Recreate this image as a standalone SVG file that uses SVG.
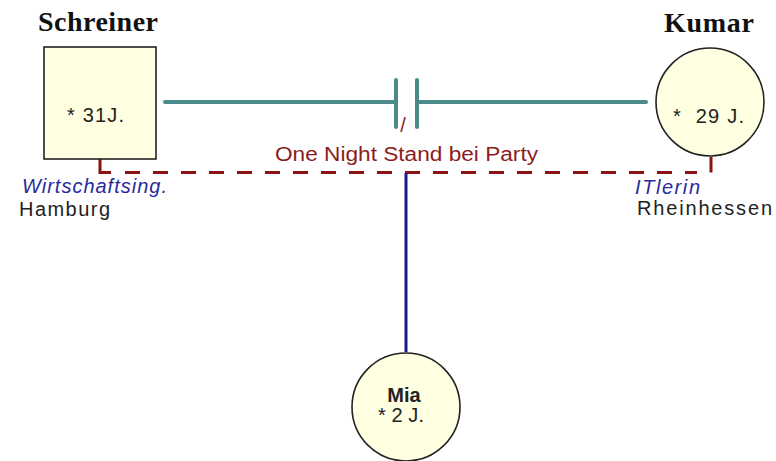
<svg xmlns="http://www.w3.org/2000/svg" width="776" height="461" viewBox="0 0 776 461">
  <style>
    .person { fill: #ffffe1; stroke: #222; stroke-width: 1.6; }
    .name { font-family: "Liberation Serif", "Times New Roman", serif; font-weight: bold; font-size: 28px; fill: #111; text-anchor: middle; }
    .age { font-family: "Liberation Sans", Arial, sans-serif; font-size: 20px; fill: #222; }
    .job { font-family: "Liberation Sans", Arial, sans-serif; font-size: 20px; font-style: italic; fill: #2a2a9c; }
    .place { font-family: "Liberation Sans", Arial, sans-serif; font-size: 20px; fill: #222; }
    .rel { font-family: "Liberation Sans", Arial, sans-serif; font-size: 20px; fill: #8b1c1c; }
    .partner { stroke: #4a8a88; stroke-width: 4; fill: none; stroke-linecap: round; }
    .union { stroke: #8b1212; stroke-width: 3; fill: none; }
    .dashed { stroke-dasharray: 15 13; }
    .child { stroke: #1a1a8c; stroke-width: 3; fill: none; }
  </style>

  <!-- connectors -->
  <g id="connectors">
    <!-- partnership line with separation bars -->
    <line class="partner" x1="165" y1="102" x2="396" y2="102"/>
    <line class="partner" x1="417" y1="102" x2="646" y2="102"/>
    <line class="partner" x1="396" y1="80" x2="396" y2="127"/>
    <line class="partner" x1="417" y1="80" x2="417" y2="127"/>
    <!-- parents' link -->
    <path class="union" d="M100 159 V172.5 H111"/>
    <line class="union dashed" x1="125" y1="172.5" x2="697" y2="172.5"/>
    <line class="union" x1="711" y1="157" x2="711" y2="172.5"/>
    <!-- child line -->
    <line class="child" x1="406" y1="173" x2="406" y2="352"/>
    <text class="rel" x="403" y="132" font-size="12" fill="#c0502a" text-anchor="middle">/</text>
    <text class="rel" x="406.5" y="161" text-anchor="middle" textLength="263" lengthAdjust="spacingAndGlyphs">One Night Stand bei Party</text>
  </g>

  <!-- father -->
  <g id="schreiner">
    <text class="name" x="98" y="31" textLength="120">Schreiner</text>
    <rect class="person" x="44" y="47" width="112" height="112"/>
    <text class="age" x="67" y="122" textLength="57">* 31J.</text>
    <text class="job" x="22" y="193" textLength="145">Wirtschaftsing.</text>
    <text class="place" x="19" y="216" textLength="91">Hamburg</text>
  </g>

  <!-- mother -->
  <g id="kumar">
    <text class="name" x="709" y="32" textLength="90">Kumar</text>
    <circle class="person" cx="710" cy="102" r="54"/>
    <text class="age" x="673" y="123" textLength="71" xml:space="preserve">*  29 J.</text>
    <text class="job" x="635" y="194" textLength="65">ITlerin</text>
    <text class="place" x="637" y="215" textLength="135">Rheinhessen</text>
  </g>

  <!-- child -->
  <g id="mia">
    <circle class="person" cx="406" cy="407" r="54"/>
    <text class="age" x="404" y="402" font-size="17" font-weight="bold" text-anchor="middle">Mia</text>
    <text class="age" x="378" y="422" textLength="46">* 2 J.</text>
  </g>
</svg>
